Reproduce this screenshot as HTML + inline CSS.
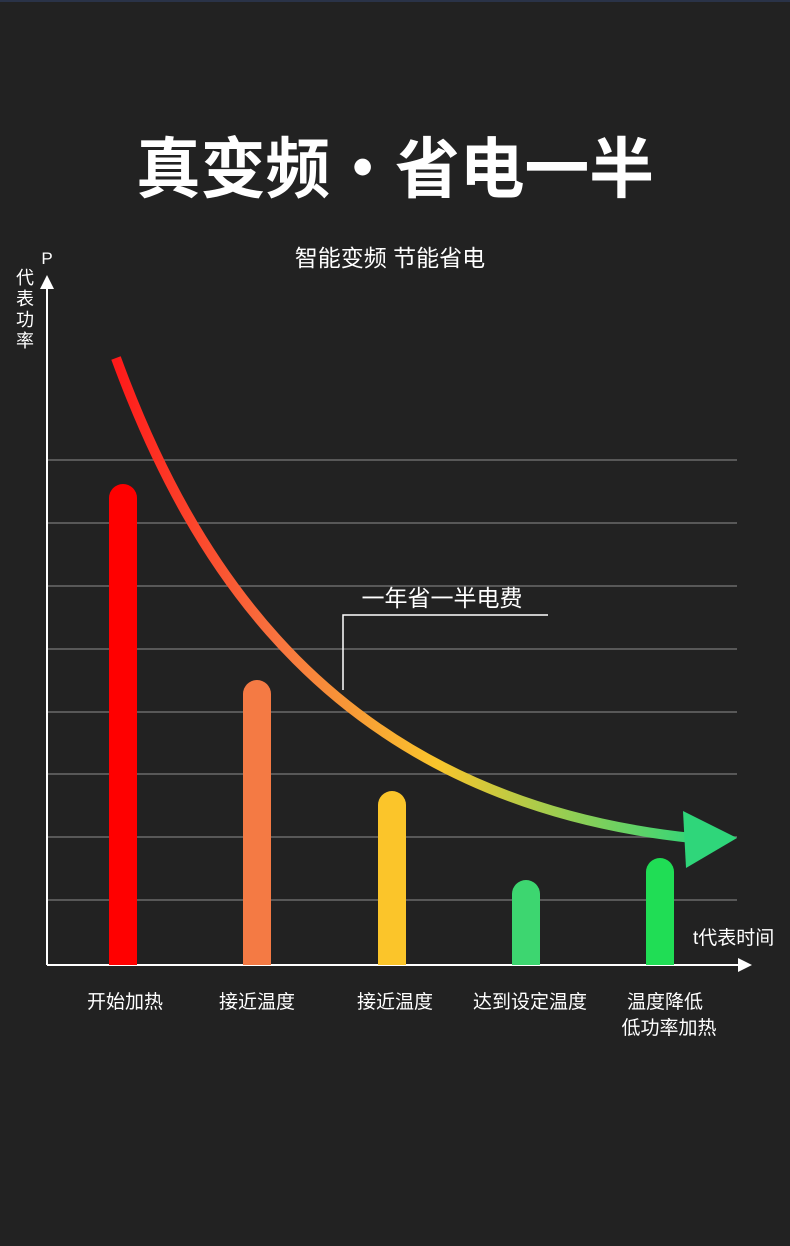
<!DOCTYPE html>
<html><head><meta charset="utf-8"><style>
html,body{margin:0;padding:0;background:#222222;}
svg{display:block;font-family:"Liberation Sans","Noto Sans CJK SC",sans-serif;}
</style></head><body>
<svg width="790" height="1246" viewBox="0 0 790 1246" xmlns="http://www.w3.org/2000/svg">
<defs>
<linearGradient id="g" x1="116" y1="0" x2="700" y2="0" gradientUnits="userSpaceOnUse">
<stop offset="0" stop-color="#ff1a1a"/>
<stop offset="0.28" stop-color="#f8753f"/>
<stop offset="0.55" stop-color="#f9c52c"/>
<stop offset="1" stop-color="#2fd67a"/>
</linearGradient>
</defs>
<rect width="790" height="1246" fill="#222222"/>
<rect width="790" height="2" fill="#2a3348"/>
<text x="136" y="192" textLength="518" lengthAdjust="spacingAndGlyphs" font-size="66" font-weight="bold" fill="#fff" font-family="'Noto Sans CJK SC',sans-serif">真变频·省电一半</text>
<text x="390" y="266" text-anchor="middle" font-size="23" fill="#fff">智能变频 节能省电</text>
<g stroke="#6a6a6a" stroke-width="1.5">
<line x1="47" y1="460" x2="737" y2="460"/><line x1="47" y1="523" x2="737" y2="523"/>
<line x1="47" y1="586" x2="737" y2="586"/><line x1="47" y1="649" x2="737" y2="649"/>
<line x1="47" y1="712" x2="737" y2="712"/><line x1="47" y1="774" x2="737" y2="774"/>
<line x1="47" y1="837" x2="737" y2="837"/><line x1="47" y1="900" x2="737" y2="900"/>
</g>
<line x1="47" y1="286" x2="47" y2="965" stroke="#fff" stroke-width="2"/>
<polygon points="47,275 40,289 54,289" fill="#fff"/>
<line x1="47" y1="965" x2="740" y2="965" stroke="#fff" stroke-width="2"/>
<polygon points="752,965 738,958 738,972" fill="#fff"/>
<text x="47" y="264" text-anchor="middle" font-size="17" fill="#fff">P</text>
<g font-size="18" fill="#fff" text-anchor="middle">
<text x="25" y="284">代</text><text x="25" y="305">表</text><text x="25" y="326">功</text><text x="25" y="347">率</text>
</g>
<text x="693" y="944" font-size="19" fill="#fff">t代表时间</text>
<path d="M109,965 V498 a14,14 0 0 1 28,0 V965Z" fill="#ff0000"/>
<path d="M243,965 V694 a14,14 0 0 1 28,0 V965Z" fill="#f47a44"/>
<path d="M378,965 V805 a14,14 0 0 1 28,0 V965Z" fill="#fbc52a"/>
<path d="M512,965 V894 a14,14 0 0 1 28,0 V965Z" fill="#3dd670"/>
<path d="M646,965 V872 a14,14 0 0 1 28,0 V965Z" fill="#20dd55"/>
<path d="M116,358 C190,560 330,800 692,838" fill="none" stroke="url(#g)" stroke-width="10"/>
<polygon points="683,811 737,838 686,868" fill="#2fd67a"/>
<polyline points="343,690 343,615 548,615" fill="none" stroke="#fff" stroke-width="1.5"/>
<text x="442" y="606" text-anchor="middle" font-size="23" fill="#fff">一年省一半电费</text>
<g font-size="19" fill="#fff" text-anchor="middle">
<text x="125" y="1008">开始加热</text>
<text x="257" y="1008">接近温度</text>
<text x="395" y="1008">接近温度</text>
<text x="530" y="1008">达到设定温度</text>
<text x="665" y="1008">温度降低</text>
<text x="669" y="1034">低功率加热</text>
</g>
</svg>
</body></html>
